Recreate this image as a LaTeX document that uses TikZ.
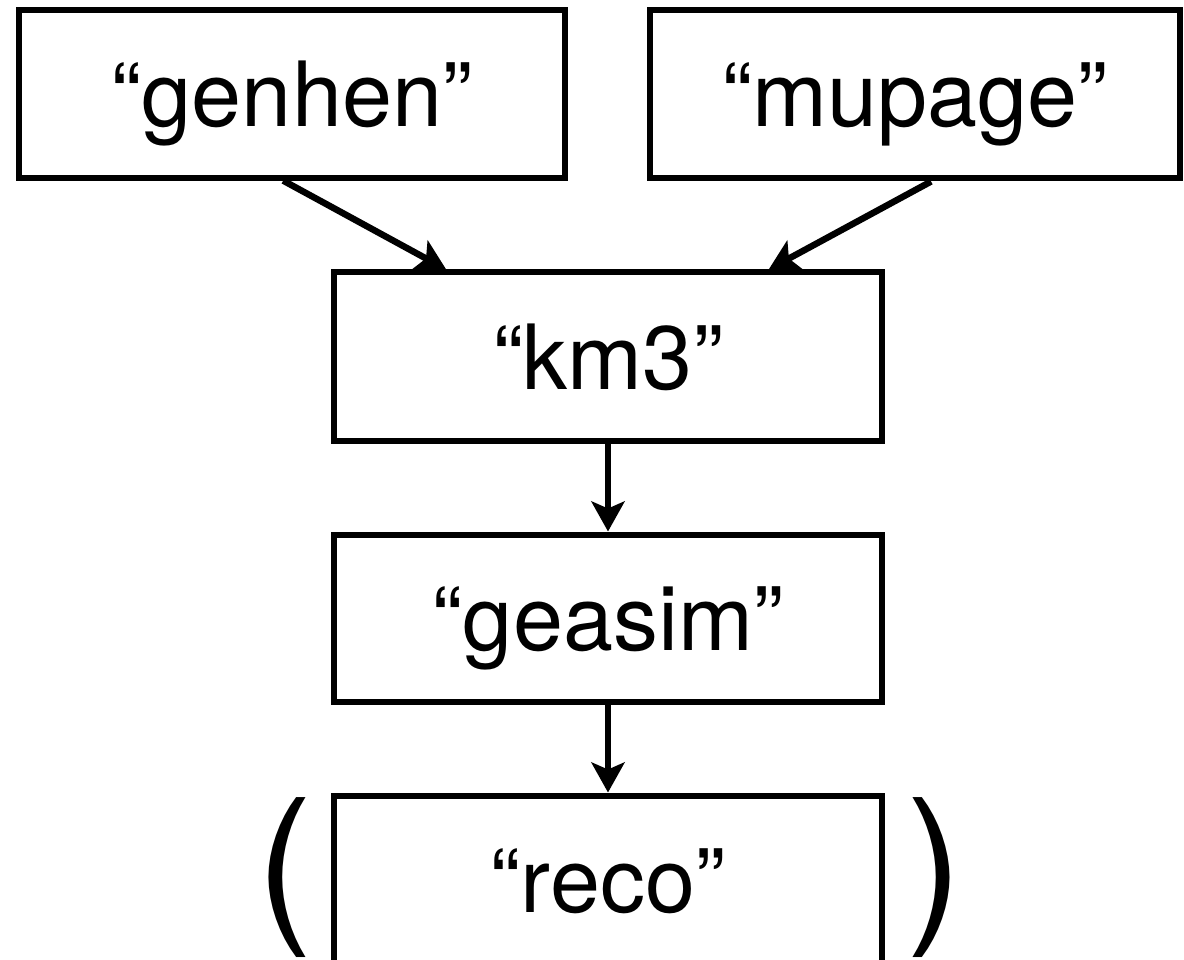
\documentclass[tikz,border=0pt]{standalone}
\usepackage{fontspec}
\setmainfont{TeX Gyre Heros}
\usetikzlibrary{arrows.meta,calc}
\begin{document}
\begin{tikzpicture}[x=1pt,y=-1pt,
  box/.style={draw, line width=6pt, inner sep=0pt, text height=65pt, text depth=0pt,
    font=\fontsize{90}{100}\selectfont},
  conn/.style={line width=6.5pt, -{Stealth[length=30pt,width=33pt,inset=7pt]}},
  vconn/.style={line width=6pt, -{Stealth[length=30pt,width=33pt,inset=7pt]}},
  paren/.style={inner sep=0pt, anchor=base, font=\fontsize{170}{180}\selectfont}]
\clip (0,0) rectangle (1184,960);
\node[box, minimum width=546pt, minimum height=168pt] (genhen) at (292,93.6) {“genhen”};
\node[box, minimum width=530pt, minimum height=168pt] (mupage) at (915,94.5) {“mupage”};
\node[box, minimum width=548pt, minimum height=168pt] (km3) at (608,356.5) {“km3”};
\node[box, minimum width=548pt, minimum height=167pt] (geasim) at (608,618) {“geasim”};
\node[box, minimum width=548pt, minimum height=168pt] (reco) at (608,879.5) {“reco”};
\node[paren] (lp) at (285,921) {(};
\node[paren] (rp) at (935,921) {)};
\draw[conn] ($(genhen.south west)!0.484!(genhen.south east)$) -- ($(km3.north west)!0.208!(km3.north east)$);
\draw[conn] ($(mupage.south west)!0.53!(mupage.south east)$) -- ($(km3.north west)!0.79!(km3.north east)$);
\draw[vconn] (km3.south) -- (geasim.north);
\draw[vconn] (geasim.south) -- (reco.north);
\end{tikzpicture}
\end{document}
